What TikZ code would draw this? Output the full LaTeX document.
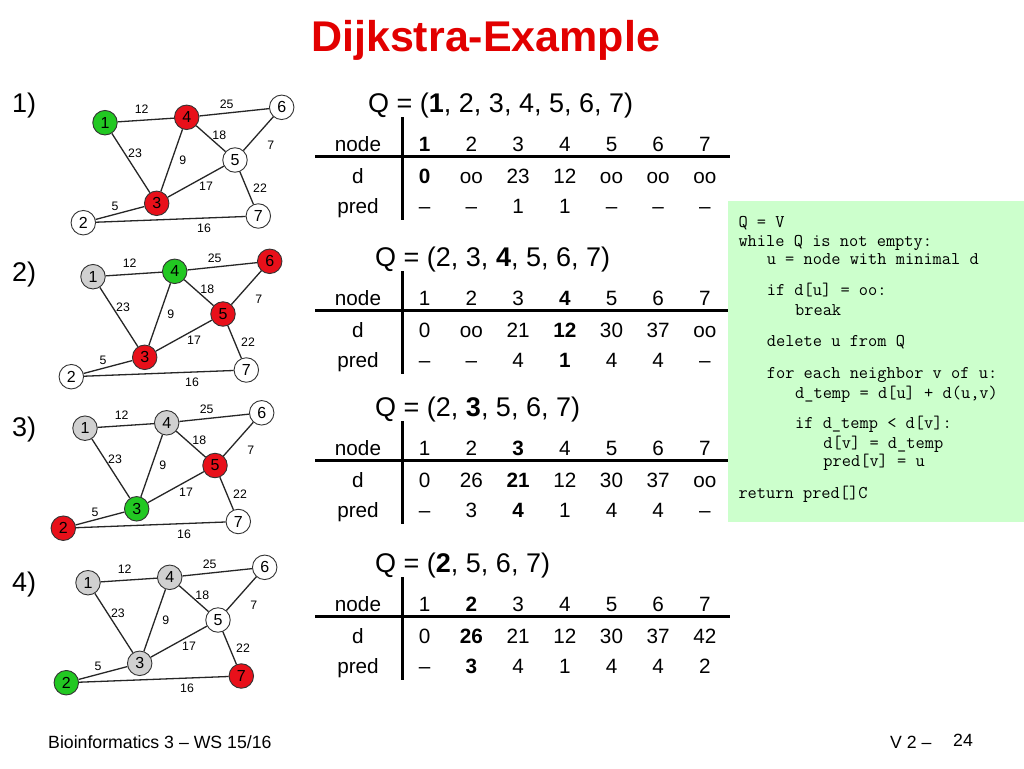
\documentclass[tikz,border=0pt]{standalone}
\usepackage{fontspec}
\setmainfont{Liberation Sans}
\definecolor{nodegreen}{RGB}{34,200,34}
\definecolor{nodered}{RGB}{232,16,26}
\definecolor{nodegray}{RGB}{208,208,208}
\definecolor{codebg}{RGB}{204,255,204}
\definecolor{titlered}{RGB}{226,0,0}
\tikzset{
  gnode/.style={circle, draw=black!80, line width=0.9pt, minimum size=24.5pt, inner sep=0pt, font=\fontsize{16}{16}\selectfont},
  gw/.style={gnode, fill=white},
  gg/.style={gnode, fill=nodegreen},
  gr/.style={gnode, fill=nodered},
  gy/.style={gnode, fill=nodegray},
  gedge/.style={draw=black!85, line width=1.3pt},
  elab/.style={font=\fontsize{12.3}{12.3}\selectfont, inner sep=0pt},
  tcell/.style={font=\fontsize{20.7}{20.7}\selectfont, inner sep=0pt, anchor=base},
  qtext/.style={font=\fontsize{27}{27}\selectfont, inner sep=0pt, anchor=base west},
  tline/.style={line width=3pt},
  code/.style={font=\fontsize{17.9}{17.9}\ttfamily, inner sep=0pt, anchor=base west},
  steplab/.style={font=\fontsize{27}{27}\selectfont, inner sep=0pt, anchor=base west},
  foot/.style={font=\fontsize{17.7}{17.7}\selectfont, inner sep=0pt, anchor=base west},
}
% #1 prefix, #2 shift, #3..#9 styles of nodes 1..7
\newcommand\drawdgraph[9]{%
  \begin{scope}[shift={#2}, name prefix=#1-]
    \node[#3] (n1) at (105,122.7) {1};
    \node[#4] (n2) at (83.3,222.7) {2};
    \node[#5] (n3) at (156.7,203.3) {3};
    \node[#6] (n4) at (186.7,117.3) {4};
    \node[#7] (n5) at (235,160) {5};
    \node[#8] (n6) at (281.7,107.3) {6};
    \node[#9] (n7) at (258.3,216) {7};
    \draw[gedge] (n1) -- (n4);
    \draw[gedge] (n4) -- (n6);
    \draw[gedge] (n4) -- (n5);
    \draw[gedge] (n6) -- (n5);
    \draw[gedge] (n1) -- (n3);
    \draw[gedge] (n4) -- (n3);
    \draw[gedge] (n3) -- (n5);
    \draw[gedge] (n5) -- (n7);
    \draw[gedge] (n2) -- (n3);
    \draw[gedge] (n2) -- (n7);
    \node[elab] (l14) at (141.7,109.3) {12};
    \node[elab] (l46) at (226.7,104) {25};
    \node[elab] (l45) at (219.3,135) {18};
    \node[elab] (l65) at (270.7,145) {7};
    \node[elab] (l13) at (135,153.3) {23};
    \node[elab] (l43) at (182.7,160) {9};
    \node[elab] (l35) at (206,186.7) {17};
    \node[elab] (l57) at (260,188.3) {22};
    \node[elab] (l23) at (115,206.7) {5};
    \node[elab] (l27) at (204,228.3) {16};
  \end{scope}}
% #1 name, #2 hline y, #3 Q x, #4 Q text, #5 node row, #6 d row, #7 pred row
\newcommand\dtable[7]{%
  \node[qtext] (#1-q) at (#3,#2-44) {#4};
  \node[tcell] (#1-hn) at (358,#2-5) {node};
  \node[tcell] (#1-hd) at (358,#2+27) {d};
  \node[tcell] (#1-hp) at (358,#2+57) {pred};
  \foreach \v [count=\i] in {#5} {\node[tcell] (#1-n\i) at ({378+46.7*\i},{#2-5}) {\v};}
  \foreach \v [count=\i] in {#6} {\node[tcell] (#1-d\i) at ({378+46.7*\i},{#2+27}) {\v};}
  \foreach \v [count=\i] in {#7} {\node[tcell] (#1-p\i) at ({378+46.7*\i},{#2+57}) {\v};}
  \draw[tline] (315,#2) -- (730,#2);
  \draw[tline] (402,#2-39) -- (402,#2+64);
}
\begin{document}
\begin{tikzpicture}[x=1pt,y=-1pt]
\useasboundingbox (0,0) rectangle (1024,768);
\fill[white] (0,0) rectangle (1024,768);
% title
\node[font=\fontsize{43}{43}\selectfont\bfseries, text=titlered, inner sep=0pt, anchor=base west] (title) at (311,52) {Dijkstra-Example};
% step labels
\node[steplab] (s1) at (12,112) {1)};
\node[steplab] (s2) at (12,281) {2)};
\node[steplab] (s3) at (12,436) {3)};
\node[steplab] (s4) at (12,591) {4)};
% graphs
\drawdgraph{g1}{(0,0)}{gg}{gw}{gr}{gr}{gw}{gw}{gw}
\drawdgraph{g2}{(-12,154)}{gy}{gw}{gr}{gg}{gr}{gr}{gw}
\drawdgraph{g3}{(-20,305.5)}{gy}{gr}{gg}{gy}{gr}{gw}{gw}
\drawdgraph{g4}{(-17,460)}{gy}{gg}{gy}{gy}{gw}{gw}{gr}
% tables
\dtable{t1}{156}{368}{Q = (\textbf{1}, 2, 3, 4, 5, 6, 7)}{\textbf{1},2,3,4,5,6,7}{\textbf{0},oo,23,12,oo,oo,oo}{–,–,1,1,–,–,–}
\dtable{t2}{310}{375}{Q = (2, 3, \textbf{4}, 5, 6, 7)}{1,2,3,\textbf{4},5,6,7}{0,oo,21,\textbf{12},30,37,oo}{–,–,4,\textbf{1},4,4,–}
\dtable{t3}{460}{375}{Q = (2, \textbf{3}, 5, 6, 7)}{1,2,\textbf{3},4,5,6,7}{0,26,\textbf{21},12,30,37,oo}{–,3,\textbf{4},1,4,4,–}
\dtable{t4}{616}{375}{Q = (\textbf{2}, 5, 6, 7)}{1,\textbf{2},3,4,5,6,7}{0,\textbf{26},21,12,30,37,42}{–,\textbf{3},4,1,4,4,2}
% code box
\fill[codebg] (728,201) rectangle (1024,522);
\node[code] (c1) at (738.3,227) {Q = V};
\node[code] (c2) at (738.3,246.5) {while Q is not empty:};
\node[code] (c3) at (766.6,264) {u = node with minimal d};
\node[code] (c4) at (766.6,295) {if d[u] = oo:};
\node[code] (c5) at (794.9,315) {break};
\node[code] (c6) at (766.6,346.5) {delete u from Q};
\node[code] (c7) at (766.6,378) {for each neighbor v of u:};
\node[code] (c8) at (794.9,398) {d\_temp = d[u] + d(u,v)};
\node[code] (c9) at (794.9,428) {if d\_temp < d[v]:};
\node[code] (c10) at (823.2,448) {d[v] = d\_temp};
\node[code] (c11) at (823.2,466.5) {pred[v] = u};
\node[code] (c12) at (738.3,498) {return pred[]C};
% footer
\node[foot] (f1) at (48,748) {Bioinformatics 3 – WS 15/16};
\node[foot] (f2) at (890,748) {V 2 –};
\node[foot] (f3) at (953,746) {24};
\end{tikzpicture}
\end{document}
